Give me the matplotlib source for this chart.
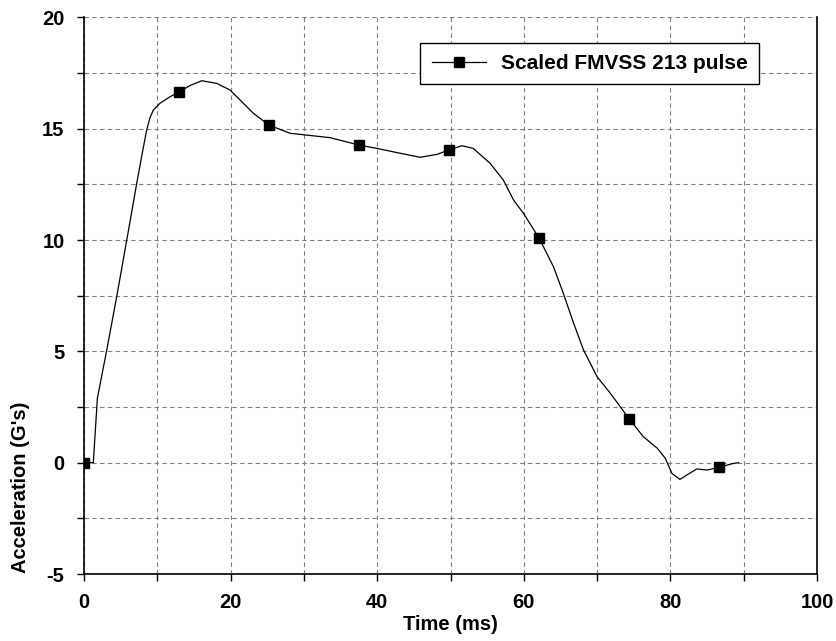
import matplotlib
matplotlib.use("Agg")
import matplotlib.pyplot as plt
from matplotlib.ticker import MultipleLocator

plt.rcParams['font.family'] = ['Liberation Sans', 'DejaVu Sans']
plt.rcParams['font.weight'] = 'bold'
plt.rcParams['axes.unicode_minus'] = False

# pulse trace (time in ms, acceleration in G's)
tiempo = [0, 1.27, 1.82, 3.1, 4.46, 5.83, 7.19, 8.0, 8.55, 9.0, 9.46, 10.37, 11.74, 13.0,
          14.5, 16.06, 18.1, 19.93, 21.3, 23.1, 25.2, 28.1, 33.6, 37.5, 39.95, 42.7,
          45.86, 48.14, 49.8, 51.55, 53.1, 55.4, 57.2, 58.6, 59.96, 62.1, 64.05,
          65.4, 66.8, 68.15, 70.0, 71.8, 74.4, 76.3, 78.2, 79.3, 80.2, 81.3,
          82.25, 83.6, 85.0, 86.6, 88.6, 89.3]
aceleracion = [0, 0, 2.89, 5.06, 7.46, 10.0, 12.55, 14.0, 14.95, 15.5, 15.84, 16.15, 16.44, 16.67,
               16.95, 17.16, 17.04, 16.74, 16.29, 15.7, 15.17, 14.8, 14.6, 14.27, 14.12, 13.93,
               13.72, 13.85, 14.05, 14.24, 14.12, 13.45, 12.7, 11.8, 11.2, 10.08, 8.8,
               7.6, 6.26, 5.06, 3.86, 3.12, 1.96, 1.17, 0.65, 0.2, -0.48, -0.75,
               -0.55, -0.28, -0.33, -0.21, -0.03, 0.0]

# samples shown with square markers
tiempo_marcas = [0, 13.0, 25.2, 37.5, 49.8, 62.1, 74.4, 86.6]
marcas = [tiempo.index(t) for t in tiempo_marcas]

fig = plt.figure(figsize=(8.36, 6.41), dpi=100)
ax = fig.add_axes([0.1005, 0.1045, 0.8768, 0.8682])

ax.plot(tiempo, aceleracion, color="black", linewidth=0.9,
        marker="s", markersize=7, markevery=marcas,
        label="Scaled FMVSS 213 pulse")

ax.set_xlim(0, 100)
ax.set_ylim(-5, 20)
ax.xaxis.set_major_locator(MultipleLocator(20))
ax.xaxis.set_minor_locator(MultipleLocator(10))
ax.yaxis.set_major_locator(MultipleLocator(5))
ax.yaxis.set_minor_locator(MultipleLocator(2.5))

ax.grid(True, which="both", color="#808080", linestyle=(0, (4, 3)), linewidth=0.8)
ax.set_axisbelow(True)

ax.tick_params(which="both", direction="out", length=5, width=1, pad=9,
               labelsize=14.5)
for s in ["left", "right", "bottom"]:
    ax.spines[s].set_linewidth(1.2)
ax.spines["top"].set_visible(False)

ax.set_xlabel("Time (ms)", fontsize=14.5, fontweight="bold", labelpad=2)
ax.set_ylabel("Acceleration (G's)", fontsize=14.5, fontweight="bold")
ax.yaxis.set_label_coords(-0.074, 0.155)

leg = ax.legend(loc="upper left", bbox_to_anchor=(0.459, 0.955), fontsize=15,
                frameon=True, fancybox=False, shadow=False, borderpad=0.55,
                handlelength=2.6, handletextpad=0.7, borderaxespad=0)
leg.get_frame().set_edgecolor("black")
leg.get_frame().set_linewidth(1.0)
leg.get_frame().set_alpha(1)

plt.savefig("out.png", dpi=100)
